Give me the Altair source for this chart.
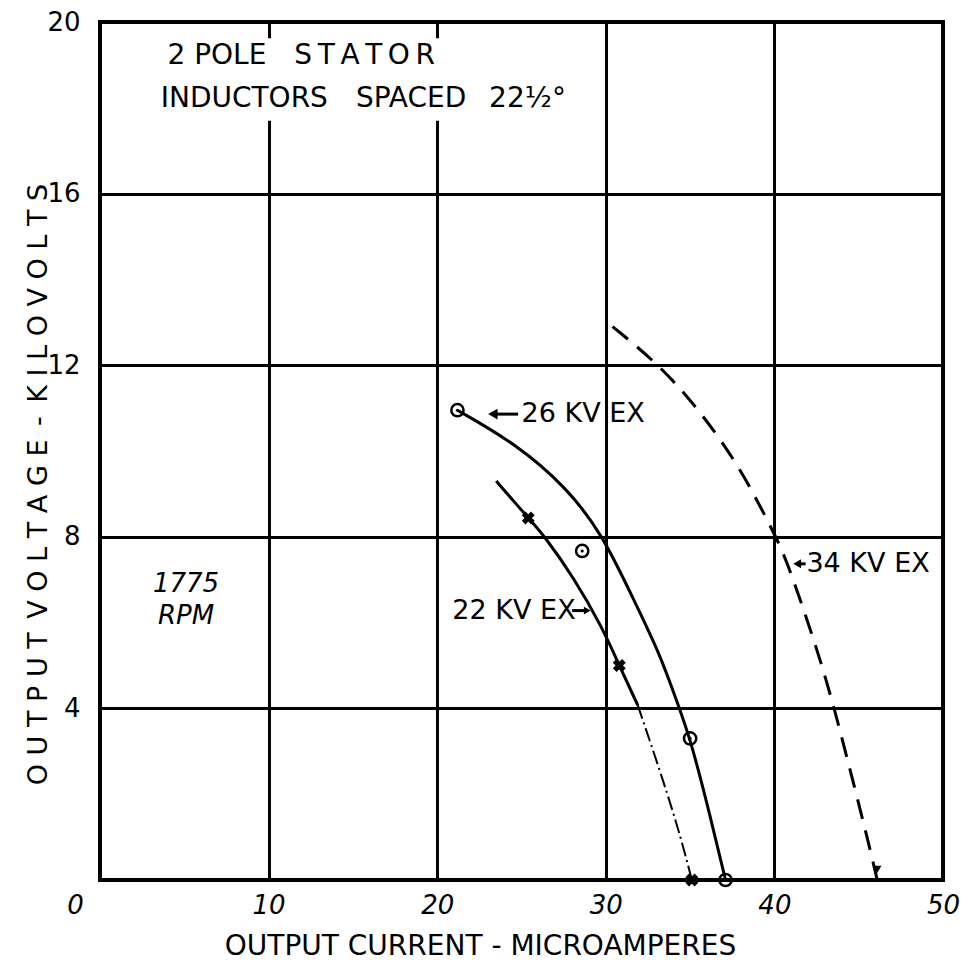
import altair as alt
import pandas as pd

# ---- data ----
# 26 KV EX (solid curve)
kv26_x = [21.2, 24.7, 27.7, 29.8, 31.6, 33.2, 34.3, 35.0, 36.0, 37.1]
kv26_y = [10.95, 10.16, 9.14, 8.05, 6.58, 5.28, 4.07, 3.3, 1.8, 0.0]
kv26_pts_x = [21.2, 28.6, 35.0, 37.1]
kv26_pts_y = [10.95, 7.67, 3.3, 0.0]

# 22 KV EX (solid upper part, dash-dot lower part)
kv22_solid_x = [23.5, 25.4, 26.3, 28.1, 29.8, 30.8, 31.9]
kv22_solid_y = [9.3, 8.44, 8.05, 7.05, 5.88, 5.0, 4.07]
kv22_dash_x = [31.9, 33.4, 34.5, 35.1]
kv22_dash_y = [4.07, 2.33, 0.93, 0.0]
kv22_pts_x = [25.4, 30.8, 35.1]
kv22_pts_y = [8.44, 5.0, 0.0]

# 34 KV EX (dashed curve)
kv34_x = [30.4, 33.2, 35.6, 38.0, 39.9, 40.7, 42.5, 43.5, 44.9, 45.5, 46.1]
kv34_y = [12.9, 12.0, 10.93, 9.6, 8.14, 7.5, 5.42, 4.1, 1.93, 1.0, 0.0]

x_ticks = [0, 10, 20, 30, 40, 50]
y_ticks = [0, 4, 8, 12, 16, 20]

# annotation texts
note_text = ["2 POLE\u2002\u2002S\u2009T\u2009A\u2009T\u2009O\u2009R",
             "INDUCTORS\u2003SPACED\u2002 22\u00bd\u00b0"]
note_x = [4.0, 3.6]
note_y = [19.2, 18.2]
rpm_text = ["1775", "RPM"]
rpm_x = [5.1, 5.1]
rpm_y = [6.9, 6.15]
lab_text = ["26 KV EX", "22 KV EX", "34 KV EX"]
lab_x = [25.0, 20.9, 41.9]
lab_y = [10.86, 6.28, 7.37]
arrow_x1 = [23.3, 28.0, 41.35]
arrow_x2 = [24.8, 28.9, 41.85]
arrow_head_x = [23.3, 28.9, 41.35]
arrow_head_shape = ["triangle-left", "triangle-right", "triangle-left"]
arrow_head_size = [120, 60, 80]

FONT = "DejaVu Sans"
X_TITLE = "OUTPUT  CURRENT - MICROAMPERES"
Y_TITLE = "\u2002".join(["O U T P U T", "V O L T A G E", "-", "K I L O V O L T S"])
INTERP = "basis"


def X(field="x"):
    return alt.X(f"{field}:Q", scale=alt.Scale(domain=[0, 50], nice=False, zero=False),
                 axis=alt.Axis(values=x_ticks, title=X_TITLE, grid=True, labelFlush=False,
                               labelOffset={"condition": {"test": "datum.value == 0", "value": -25},
                                            "value": 0},
                               labelFontStyle="italic", labelPadding=12,
                               titleX=380, titleY=66, titleBaseline="middle",
                               titleAlign="center", titleFontSize=28))


def Y(field="y"):
    return alt.Y(f"{field}:Q", scale=alt.Scale(domain=[0, 20], nice=False),
                 axis=alt.Axis(values=y_ticks, title=Y_TITLE, grid=True, labelFlush=False,
                               labelExpr="datum.value == 0 ? '' : datum.label",
                               labelPadding=20,
                               titleX=-62, titleY=462, titleAngle=270,
                               titleBaseline="middle", titleAlign="center",
                               titleFontSize=27))


df26 = pd.DataFrame({"x": kv26_x, "y": kv26_y})
df26p = pd.DataFrame({"x": kv26_pts_x, "y": kv26_pts_y})
df22s = pd.DataFrame({"x": kv22_solid_x, "y": kv22_solid_y})
df22d = pd.DataFrame({"x": kv22_dash_x, "y": kv22_dash_y})
df22p = pd.DataFrame({"x": kv22_pts_x, "y": kv22_pts_y})
df34 = pd.DataFrame({"x": kv34_x, "y": kv34_y})
df34end = pd.DataFrame({"x": [kv34_x[-1]], "y": [kv34_y[-1] + 0.25]})

notes = pd.DataFrame({"x": note_x, "y": note_y, "t": note_text})
rpm = pd.DataFrame({"x": rpm_x, "y": rpm_y, "t": rpm_text})
labs = pd.DataFrame({"x": lab_x, "y": lab_y, "t": lab_text})
arrows = pd.DataFrame({"x": arrow_x1, "x2": arrow_x2, "y": lab_y})
heads = pd.DataFrame({"x": arrow_head_x, "y": lab_y, "shape": arrow_head_shape,
                      "size": arrow_head_size})
blank = pd.DataFrame({"x": [3.4], "x2": [27.0], "y": [17.7], "y2": [19.62]})

bg = alt.Chart(blank).mark_rect(color="white").encode(
    x=X(), x2="x2:Q", y=Y(), y2="y2:Q")

line26 = alt.Chart(df26).mark_line(color="black", strokeWidth=3, interpolate=INTERP).encode(
    x=X(), y=Y())
pts26 = alt.Chart(df26p).mark_point(shape="circle", color="black", size=150, strokeWidth=2.5,
                                    filled=False, opacity=1).encode(x=X(), y=Y())
dot26 = alt.Chart(df26p).mark_point(shape="circle", color="black", size=10, filled=True,
                                    opacity=1).encode(x=X(), y=Y())

line22s = alt.Chart(df22s).mark_line(color="black", strokeWidth=3, interpolate=INTERP).encode(
    x=X(), y=Y())
line22d = alt.Chart(df22d).mark_line(color="black", strokeWidth=2, strokeDash=[14, 4, 2, 4],
                                     interpolate=INTERP).encode(x=X(), y=Y())
pts22 = alt.Chart(df22p).mark_point(shape="cross", angle=45, color="black", size=170, filled=True,
                                    opacity=1).encode(x=X(), y=Y())

line34 = alt.Chart(df34).mark_line(color="black", strokeWidth=3, strokeDash=[20, 12],
                                   interpolate=INTERP).encode(x=X(), y=Y())
head34 = alt.Chart(df34end).mark_point(shape="triangle-down", color="black", size=70, filled=True,
                                       opacity=1).encode(x=X(), y=Y())

arrow_rules = alt.Chart(arrows).mark_rule(color="black", strokeWidth=3).encode(
    x=X(), x2="x2:Q", y=Y())
arrow_heads = alt.Chart(heads).mark_point(color="black", filled=True, opacity=1).encode(
    x=X(), y=Y(),
    shape=alt.Shape("shape:N", scale=None, legend=None),
    size=alt.Size("size:Q", scale=None, legend=None))

note_txt = alt.Chart(notes).mark_text(align="left", baseline="middle", font=FONT, fontSize=28,
                                      color="black").encode(x=X(), y=Y(), text="t:N")
rpm_txt = alt.Chart(rpm).mark_text(align="center", baseline="middle", font=FONT, fontSize=26,
                                   fontStyle="italic", color="black").encode(x=X(), y=Y(), text="t:N")
lab_txt = alt.Chart(labs).mark_text(align="left", baseline="middle", font=FONT, fontSize=27,
                                    color="black").encode(x=X(), y=Y(), text="t:N")

chart = alt.layer(
    bg, line26, pts26, dot26, line22s, line22d, pts22, line34, head34,
    arrow_rules, arrow_heads, note_txt, rpm_txt, lab_txt
).properties(
    width=843, height=858,
    autosize=alt.AutoSizeParams(type="none"),
    padding={"left": 92, "top": 14, "right": 18, "bottom": 82},
    background="white",
).configure_view(
    stroke="black", strokeWidth=4
).configure_axis(
    gridColor="black", gridWidth=3, gridOpacity=1, domain=False, ticks=False,
    labelColor="black", titleColor="black", labelFont=FONT, titleFont=FONT,
    labelFontSize=26, titleFontWeight="normal", labelFontWeight="normal",
)

chart.save("out.html", embed_options={"renderer": "svg", "actions": False})
